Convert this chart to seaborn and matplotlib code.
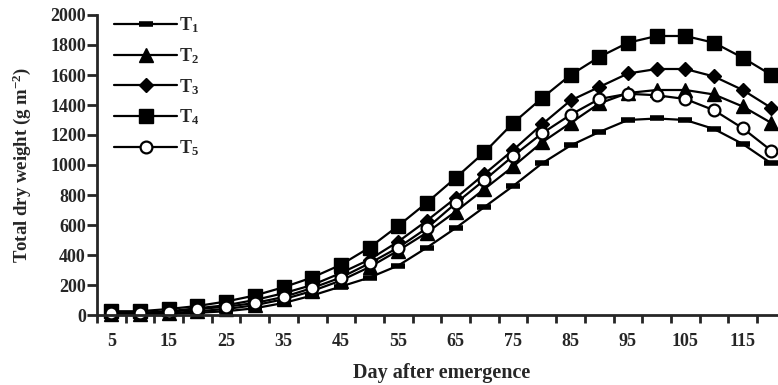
import pandas as pd
import matplotlib
matplotlib.use("Agg")
import matplotlib.pyplot as plt
import seaborn as sb

days = [5, 10, 15, 20, 25, 30, 35, 40, 45, 50, 55, 60,
        65, 70, 75, 80, 85, 90, 95, 100, 105, 110, 115, 120]

t1 = [5, 5, 8, 15, 25, 45, 80, 130, 190, 250, 330, 450,
      580, 720, 860, 1010, 1130, 1220, 1300, 1310, 1300, 1240, 1140, 1010]
t2 = [10, 8, 12, 25, 40, 65, 105, 160, 230, 320, 430, 550,
      690, 840, 990, 1150, 1280, 1410, 1480, 1500, 1500, 1470, 1390, 1280]
t3 = [20, 15, 25, 45, 65, 100, 145, 200, 280, 370, 490, 630,
      780, 940, 1100, 1270, 1430, 1520, 1610, 1640, 1640, 1590, 1500, 1380]
t4 = [25, 25, 40, 60, 90, 130, 185, 250, 335, 450, 595, 750,
      915, 1085, 1280, 1445, 1600, 1720, 1815, 1860, 1860, 1815, 1715, 1600]
t5 = [15, 12, 20, 40, 55, 80, 120, 180, 250, 345, 450, 580,
      745, 900, 1060, 1210, 1335, 1440, 1475, 1465, 1440, 1365, 1245, 1095]

labels = ["T$_1$", "T$_2$", "T$_3$", "T$_4$", "T$_5$"]
series = [t1, t2, t3, t4, t5]

rows = []
for lab, vals in zip(labels, series):
    for i, (d, v) in enumerate(zip(days, vals)):
        rows.append({"treatment": lab, "pos": i, "day": d, "weight": v})
df = pd.DataFrame(rows)

sb.set_style("ticks")
plt.rcParams["font.family"] = ["Liberation Serif", "DejaVu Serif"]
plt.rcParams["font.weight"] = "bold"
plt.rcParams["mathtext.fontset"] = "custom"
plt.rcParams["mathtext.rm"] = "Liberation Serif:bold"
plt.rcParams["mathtext.default"] = "rm"

fig = plt.figure(figsize=(7.78, 3.85), dpi=100)
ax = fig.add_axes([97 / 778, 70 / 385, 24 * 28.7 / 778, 300 / 385])

styles = [
    dict(marker="_", markersize=10, markeredgewidth=4, markerfacecolor="black"),
    dict(marker="^", markersize=9.5, markeredgewidth=1, markerfacecolor="black"),
    dict(marker="D", markersize=7, markeredgewidth=1, markerfacecolor="black"),
    dict(marker="s", markersize=9.5, markeredgewidth=1, markerfacecolor="black"),
    dict(marker="o", markersize=8.5, markeredgewidth=1.6, markerfacecolor="white"),
]

for lab, st in zip(labels, styles):
    sb.lineplot(data=df[df.treatment == lab], x="pos", y="weight", ax=ax,
                color="black", linewidth=1.6, markeredgecolor="black",
                label=lab, clip_on=False, **st)

ax.set_xlim(-0.5, 23.5)
ax.set_ylim(0, 2000)
ax.set_yticks(range(0, 2001, 200))
ax.set_xticks(range(0, 24, 2))
ax.set_xticklabels([str(d) for d in days[::2]])
ax.set_xticks([i - 0.5 for i in range(25)], minor=True)
ax.tick_params(axis="x", which="major", length=0, pad=13, labelsize=13)
ax.tick_params(axis="x", which="minor", length=6, width=2, direction="out")
ax.tick_params(axis="y", length=7, width=2, direction="out", pad=1, labelsize=13)

sb.despine(ax=ax)
for sp in ["left", "bottom"]:
    ax.spines[sp].set_linewidth(2)

ax.set_xlabel("Day after emergence", fontsize=14.5, fontweight="bold", labelpad=9)
ax.set_ylabel("Total dry weight (g m$^{-2}$)", fontsize=13.5, fontweight="bold", labelpad=12)

leg = ax.legend(loc="upper left", bbox_to_anchor=(0.012, 1.03), frameon=False,
                handlelength=3.5, handletextpad=0.1, labelspacing=0.62,
                fontsize=13, borderaxespad=0.1)

fig.savefig("out.png", dpi=100)
